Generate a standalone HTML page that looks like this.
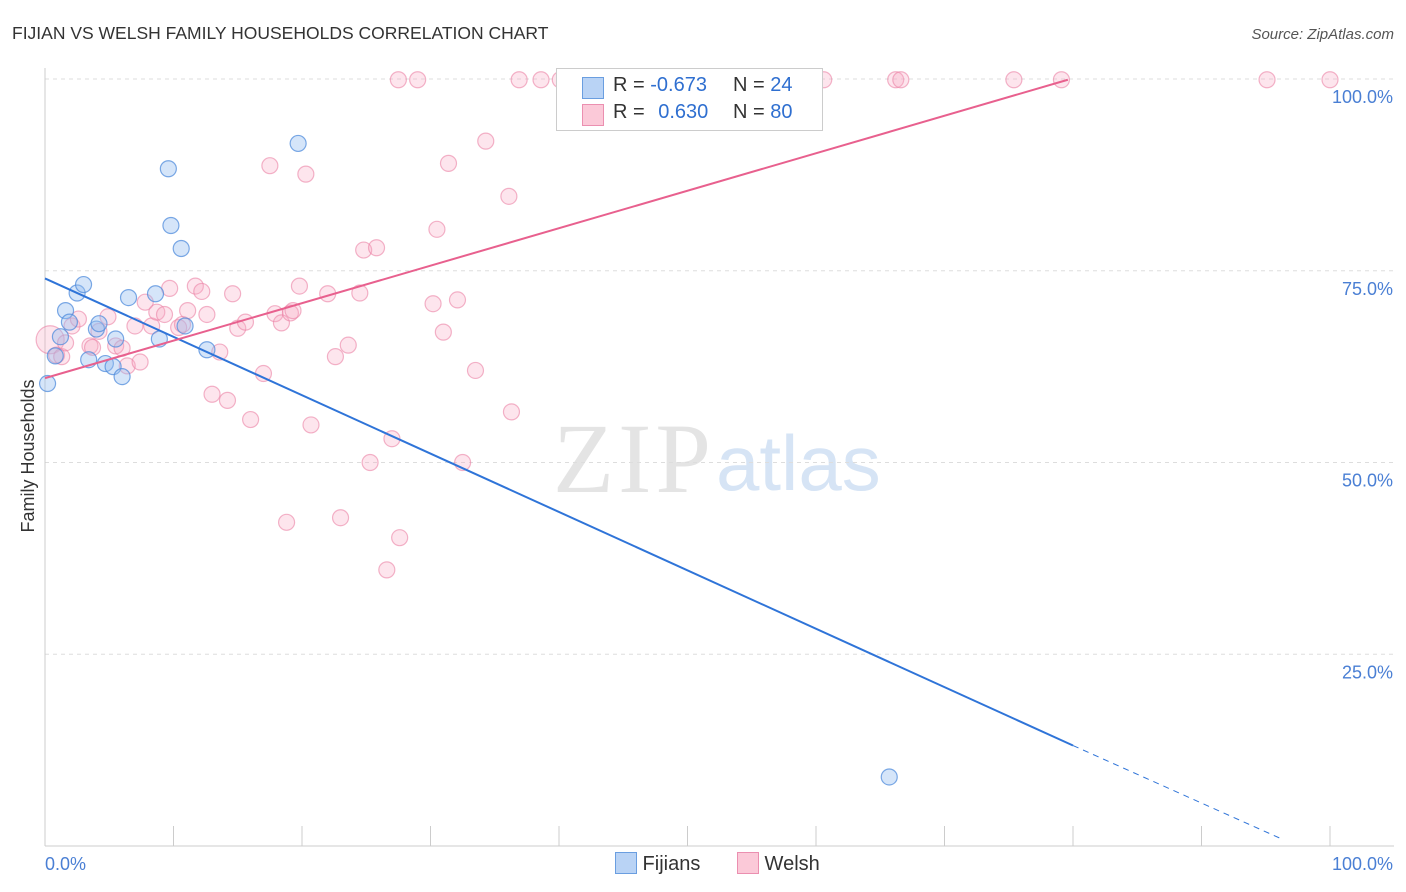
<!DOCTYPE html>
<html><head><meta charset="utf-8">
<style>
body{margin:0;background:#fff;font-family:"Liberation Sans",sans-serif;}
#wrap{position:relative;width:1406px;height:892px;overflow:hidden;}
</style></head>
<body>
<div id="wrap">
<svg id="svg" width="1406" height="892" xmlns="http://www.w3.org/2000/svg">
<text x="12" y="39" font-size="17.5" fill="#333">FIJIAN VS WELSH FAMILY HOUSEHOLDS CORRELATION CHART</text>
<text x="1394" y="39" font-size="15" fill="#555" text-anchor="end" font-style="italic">Source: ZipAtlas.com</text>
<text transform="translate(34,456) rotate(-90)" font-size="18" fill="#333" text-anchor="middle">Family Households</text>
<text x="553" y="492" font-size="100" fill="#e4e4e4" font-family="Liberation Serif,serif" letter-spacing="4">ZIP</text>
<text x="716" y="490" font-size="78" fill="#d6e4f5">atlas</text>
<g id="grid"></g><g id="marks"></g>
</svg>
</div>
<script>
const fijX=[0.2,0.8,1.2,1.6,1.9,2.5,3.0,3.4,4.0,4.2,4.7,5.3,5.5,6.0,6.5,8.6,8.9,9.6,9.8,10.6,10.9,12.6,19.7,65.7];
const fijY=[60.3,63.9,66.4,69.8,68.3,72.1,73.2,63.4,67.4,68.1,62.9,62.5,66.1,61.2,71.5,72.0,66.1,88.3,80.9,77.9,67.8,64.7,91.6,9.0];
const welX=[0.4,0.9,1.3,1.6,2.1,2.6,3.5,3.7,4.2,4.9,5.5,6.0,6.4,7.0,7.4,7.8,8.3,8.7,9.3,9.7,10.4,10.7,11.1,11.7,12.2,12.6,13.0,13.6,14.2,14.6,15.0,15.6,16.0,17.0,17.5,17.9,18.4,19.1,19.3,19.8,20.3,20.7,22.0,22.6,23.0,23.6,24.5,24.8,25.3,25.8,26.6,27.0,27.5,27.6,29.0,30.2,30.5,31.0,31.4,32.1,32.5,33.5,34.3,36.1,36.3,36.9,38.6,40.1,41.2,45.8,47.5,54.2,60.6,66.2,66.6,75.4,79.1,95.1,100.0,18.8];
const welY=[66.0,64.0,63.8,65.6,67.8,68.7,65.2,65.0,67.1,69.0,65.2,64.9,62.6,67.8,63.1,70.9,67.8,69.6,69.3,72.7,67.6,68.0,69.8,73.0,72.3,69.3,58.9,64.4,58.1,72.0,67.5,68.3,55.6,61.6,88.7,69.4,68.2,69.5,69.8,73.0,87.6,54.9,72.0,63.8,42.8,65.3,72.1,77.7,50.0,78.0,36.0,53.1,99.9,40.2,99.9,70.7,80.4,67.0,89.0,71.2,50.0,62.0,91.9,84.7,56.6,99.9,99.9,99.9,99.9,99.9,99.9,99.9,99.9,99.9,99.9,99.9,99.9,99.9,99.9,42.2];
const yTicks=[100,75,50,25];
const yTickLabels=["100.0%","75.0%","50.0%","25.0%"];
const fijTrend=[[0,74.0],[80,13.1]];
const fijTrendDash=[[80,13.1],[96.4,0.8]];
const welTrend=[[0,61.0],[79.6,99.9]];

const sx=v=>45+v*12.85, sy=v=>846-v*7.67;
const NS="http://www.w3.org/2000/svg";
const g=document.getElementById('grid'), m=document.getElementById('marks');
function mk(tag,attrs,parent){const e=document.createElementNS(NS,tag);for(const k in attrs)e.setAttribute(k,attrs[k]);parent.appendChild(e);return e;}
yTicks.forEach((t,i)=>{
  const l=mk('line',{x1:45,x2:1394,y1:sy(t),y2:sy(t),stroke:'#ddd','stroke-dasharray':'4,4'},g);
  
  
  const tx=mk('text',{x:1393,y:sy(t)+24,'font-size':18,fill:'#4a7fd4','text-anchor':'end'},g);
  tx.textContent=yTickLabels[i];
  
  
});
const ax=mk('line',{x1:45,x2:45,y1:68,y2:846,stroke:'#ccc'},g);


const bx=mk('line',{x1:45,x2:1394,y1:846,y2:846,stroke:'#ccc'},g);


for(let i=0;i<=10;i++){
  const t=mk('line',{x1:sx(i*10),x2:sx(i*10),y1:826,y2:846,stroke:'#ccc'},g);
  
  
}
[["0.0%",45,'start'],["100.0%",1393,'end']].forEach(a=>{
  const t=mk('text',{x:a[1],y:870,'font-size':18,fill:'#4a7fd4','text-anchor':a[2]},g);
  t.textContent=a[0];
  
  
});
welX.forEach((x,i)=>{
  const c=mk('circle',{cx:sx(x),cy:sy(welY[i]),r:i==0?14:8,fill:'rgba(248,170,195,0.3)',stroke:'rgba(235,130,165,0.6)','stroke-width':1.2},m);
  
  
});
fijX.forEach((x,i)=>{
  const c=mk('circle',{cx:sx(x),cy:sy(fijY[i]),r:8,fill:'rgba(150,190,240,0.4)',stroke:'rgba(80,140,220,0.75)','stroke-width':1.2},m);
  
  
});
const l1=mk('line',{x1:sx(fijTrend[0][0]),y1:sy(fijTrend[0][1]),x2:sx(fijTrend[1][0]),y2:sy(fijTrend[1][1]),stroke:'#2f74d8','stroke-width':2},m);


const l2=mk('line',{x1:sx(fijTrendDash[0][0]),y1:sy(fijTrendDash[0][1]),x2:sx(fijTrendDash[1][0]),y2:sy(fijTrendDash[1][1]),stroke:'#2f74d8','stroke-width':1,'stroke-dasharray':'6,5'},m);


const l3=mk('line',{x1:sx(welTrend[0][0]),y1:sy(welTrend[0][1]),x2:sx(welTrend[1][0]),y2:sy(welTrend[1][1]),stroke:'#e8608e','stroke-width':2},m);


</script>
<div style="position:absolute;left:556px;top:68px;width:265px;height:61px;background:#fff;border:1px solid #ccc;font-size:20px;color:#333;">
 <div style="position:absolute;left:25px;top:8px;width:20px;height:20px;background:#b9d3f5;border:1px solid #6a9ee0"></div>
 <div style="position:absolute;left:56px;top:5px">R = <span style="color:#2f6fd0">-0.673</span></div>
 <div style="position:absolute;left:176px;top:5px">N = <span style="color:#2f6fd0">24</span></div>
 <div style="position:absolute;left:25px;top:35px;width:20px;height:20px;background:#fbc9d8;border:1px solid #eb8fb0"></div>
 <div style="position:absolute;left:56px;top:32px">R = <span style="color:#2f6fd0;margin-left:8px">0.630</span></div>
 <div style="position:absolute;left:176px;top:32px">N = <span style="color:#2f6fd0">80</span></div>
</div>
<div style="position:absolute;top:852px;left:615px;font-size:20px;color:#333;">
 <span style="position:absolute;left:0;top:0;white-space:nowrap"><span style="display:inline-block;width:20px;height:20px;background:#b9d3f5;border:1px solid #6a9ee0;vertical-align:-4px"></span> Fijians</span>
 <span style="position:absolute;left:122px;top:0;white-space:nowrap"><span style="display:inline-block;width:20px;height:20px;background:#fbc9d8;border:1px solid #eb8fb0;vertical-align:-4px"></span> Welsh</span>
</div>
</body></html>
